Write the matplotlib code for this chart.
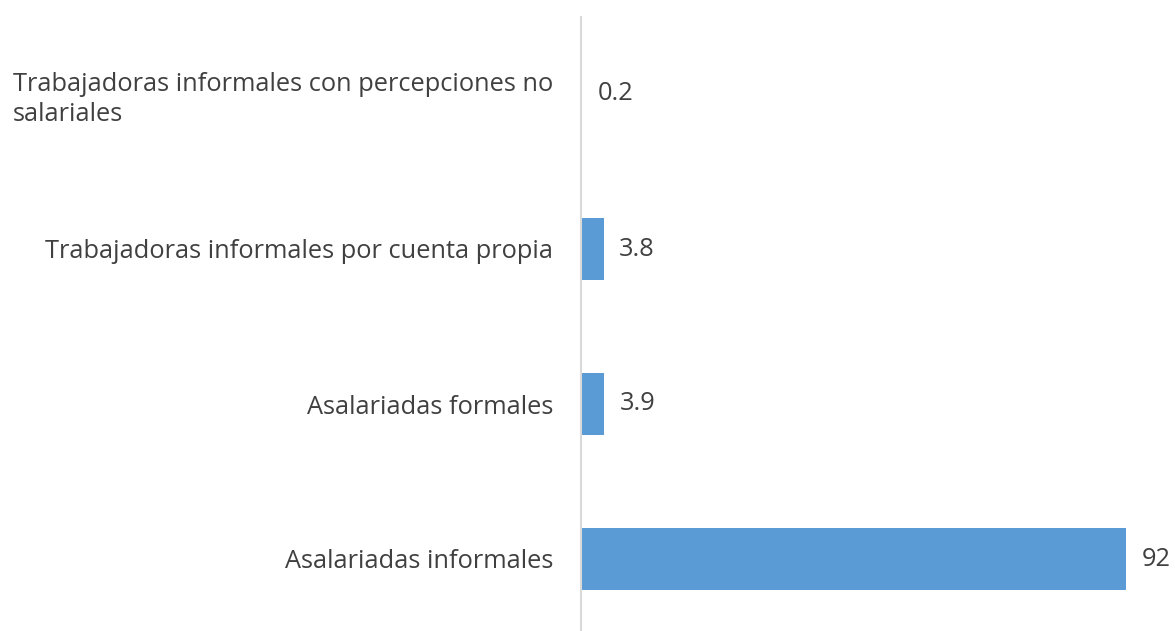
import matplotlib
matplotlib.use("Agg")
import matplotlib.pyplot as plt

categories = [
    "Asalariadas informales",
    "Asalariadas formales",
    "Trabajadoras informales por cuenta propia",
    "Trabajadoras informales con percepciones no\nsalariales",
]
values = [92, 3.9, 3.8, 0.2]
value_labels = ["92", "3.9", "3.8", "0.2"]

TEXT = "#404040"
BAR = "#5b9bd5"

plt.rcParams["font.family"] = ["Open Sans", "DejaVu Sans"]

W, H = 1175, 631
fig = plt.figure(figsize=(W / 100, H / 100), dpi=100)
ax = fig.add_axes([581 / W, (631 - 636.5) / H, (1126 - 581) / W, 620 / H])

ypos = list(range(len(categories)))
ax.barh(ypos, values, height=0.4, color=BAR)
ax.set_xlim(0, 92)
ax.set_ylim(-0.5, 3.5)

for y, v, lab in zip(ypos, values, value_labels):
    ax.annotate(lab, (v, y), xytext=(11, 0), textcoords="offset points",
                va="center", ha="left", fontsize=18.3, color=TEXT,
                annotation_clip=False)

ax.set_yticks(ypos)
ax.set_yticklabels(categories, fontsize=18.3, color=TEXT,
                   multialignment="left", linespacing=1.25)
ax.tick_params(axis="y", length=0, pad=20)
ax.set_xticks([])

for s in ["top", "right", "bottom"]:
    ax.spines[s].set_visible(False)
ax.spines["left"].set_color("#d9d9d9")
ax.spines["left"].set_linewidth(1.5)

fig.savefig("out.png", dpi=100)
